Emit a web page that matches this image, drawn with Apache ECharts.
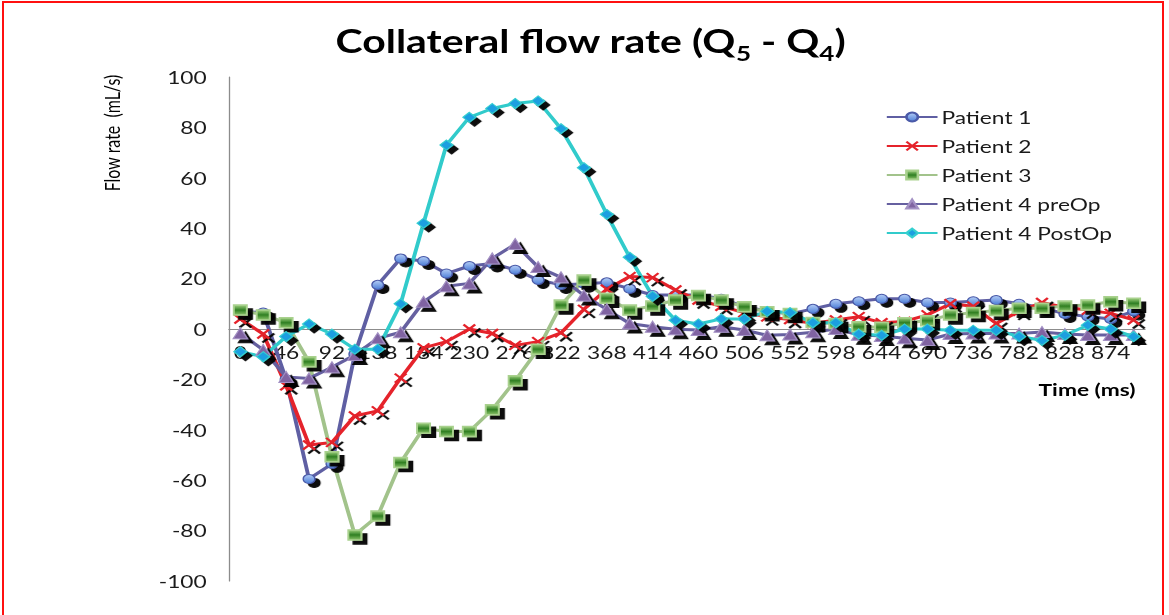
<!DOCTYPE html>
<html><head><meta charset="utf-8">
<script src="https://cdn.jsdelivr.net/npm/echarts@6/dist/echarts.min.js"></script>
<style>
html,body{margin:0;padding:0;background:#fff;overflow:hidden;width:1169px;height:615px;}
#chart{position:absolute;left:0;top:0;width:899px;height:615px;transform:scaleX(1.3003);transform-origin:0 0;}
#frame{position:absolute;left:2px;top:1px;width:1162px;height:700px;border:2px solid #ff1010;box-sizing:border-box;pointer-events:none;}
</style></head>
<body><div id="chart"></div><div id="frame"></div>
<script>
const categories = ['0','23','46','69','92','115','138','161','184','207','230','253','276','299','322','345','368','391','414','437','460','483','506','529','552','575','598','621','644','667','690','713','736','759','782','805','828','851','874','897'];
const yTicks = { min: -100, max: 100, step: 20 };

const patient1 = [7, 6.5, -20, -59.5, -53.5, -10, 17.5, 28, 27, 22, 25, 26, 23.5, 19.5, 17.5, 18, 18.5, 16, 13.5, 13.5, 13.5, 12, 9, 7, 6, 8, 10, 11, 12, 12, 10.5, 10.5, 11, 11.5, 10, 8.5, 6, 5, 4, 7];
const patient2 = [4, -2, -22.5, -46, -45, -34.5, -32.5, -19.5, -7.5, -5, 0, -1.8, -6.5, -5, -1.5, 7.8, 15.8, 20.8, 20.4, 15.5, 11.5, 9, 6.5, 4.8, 3.8, 2.2, 3.6, 4.9, 2.5, 3, 5.6, 10, 9, 2.2, 7, 10.5, 8.6, 7.5, 6.2, 3.6];
const patient3 = [7.5, 5.6, 2.5, -13, -50.7, -81.7, -74.2, -53, -39.4, -40.7, -40.7, -32, -20.5, -8, 9.5, 19.4, 12.2, 7.5, 9.1, 11.5, 13.3, 11.5, 8.8, 6.8, 6.2, 2.6, 2.2, 0.9, 0.7, 2.5, 3.3, 5.6, 6.5, 7.3, 8.2, 8.2, 9.1, 9.5, 10.8, 10.2];
const patient4Pre = [-1.7, -8.3, -19, -19.6, -15.2, -10.3, -3.7, -1.3, 10.8, 17, 18.1, 28, 33.7, 24.6, 20.5, 13.3, 7.8, 2.2, 0.9, -0.1, -0.4, 0.9, -0.4, -2.5, -2.2, -1.3, 0, -2.3, -2.8, -3.7, -4.4, -2, -1.8, -1.8, -1.8, -1.2, -2, -2.4, -2.4, -2.4];
const patient4Post = [-9, -11, -3, 2, -2, -8, -8, 10, 42, 73, 84, 87.5, 89.5, 90.5, 79.5, 64, 45.5, 28.5, 13, 3.5, 2, 4, 4, 7, 6.5, 2.5, 2.5, -2, -2.5, 0, 0, -0.5, -0.5, -0.5, -3, -4.5, -2.5, 1.5, 0, -3];
const seriesNames = ['Patient 1', 'Patient 2', 'Patient 3', 'Patient 4 preOp', 'Patient 4 PostOp'];

const FONT = 'Lato, "Open Sans", sans-serif';
const shadow = { shadowColor: 'rgba(0,0,0,0.95)', shadowBlur: 1, shadowOffsetX: 4, shadowOffsetY: 4 };
function grad(a, b, c) {
  return { type: 'linear', x: 0, y: 0, x2: 0, y2: 1, colorStops: c ? [{offset:0,color:a},{offset:0.5,color:b},{offset:1,color:c}] : [{offset:0,color:a},{offset:1,color:b}] };
}
function mk(name, data, symbol, size, lineColor, item) {
  return {
    name, type: 'line', data, symbol, symbolSize: size, showAllSymbol: true,
    lineStyle: { color: lineColor, width: 3 },
    itemStyle: Object.assign({}, item, shadow),
    emphasis: { disabled: true },
    z: 2
  };
}

const chart = echarts.init(document.getElementById('chart'), null, { renderer: 'svg' });
chart.setOption({
  animation: false,
  backgroundColor: '#ffffff',
  title: {
    text: '{a|Collateral flow rate (Q}{s|5}{a| - Q}{s|4}{a|)}',
    left: 449, top: 14, textAlign: 'center',
    textStyle: {
      rich: {
        a: { fontFamily: FONT, fontWeight: 'bold', fontSize: 31.5, lineHeight: 44, color: '#000' },
        s: { fontFamily: FONT, fontWeight: 'bold', fontSize: 20, lineHeight: 20, verticalAlign: 'bottom', color: '#000' }
      }
    }
  },
  legend: {
    orient: 'vertical', left: 676, top: 103,
    itemWidth: 39, itemHeight: 11, itemGap: 11,
    data: seriesNames,
    textStyle: { fontFamily: FONT, fontSize: 17.5, color: '#1a1a1a', lineHeight: 18, padding: [0,0,0,-2] },
    itemStyle: { shadowColor: 'rgba(0,0,0,0)', shadowBlur: 0, shadowOffsetX: 0, shadowOffsetY: 0 }
  },
  grid: { left: 176, top: 77, width: 704.6, height: 504, containLabel: false },
  xAxis: {
    type: 'category', data: categories, boundaryGap: true,
    position: 'bottom', offset: -252,
    axisLine: { onZero: false, lineStyle: { color: '#8c8c8c', width: 1 } },
    axisTick: { show: false },
    axisLabel: { interval: 1, margin: 14, fontFamily: FONT, fontSize: 17.5, color: '#1a1a1a' },
    splitLine: { show: false }
  },
  yAxis: {
    type: 'value', min: yTicks.min, max: yTicks.max, interval: yTicks.step,
    axisLine: { show: true, lineStyle: { color: '#8c8c8c', width: 1 } },
    axisTick: { show: false },
    axisLabel: { margin: 17, fontFamily: FONT, fontSize: 17.5, color: '#1a1a1a' },
    splitLine: { show: false }
  },
  graphic: [
    { type: 'text', x: 86, y: 133, rotation: Math.PI / 2,
      style: { text: 'Flow rate  (mL/s)', fontFamily: FONT, fontSize: 16, fill: '#000', textAlign: 'center', textVerticalAlign: 'middle' } },
    { type: 'text', x: 836, y: 389,
      style: { text: 'Time (ms)', fontFamily: FONT, fontWeight: 'bold', fontSize: 17.5, fill: '#000', textAlign: 'center', textVerticalAlign: 'middle' } }
  ],
  series: [
    mk(seriesNames[0], patient1, 'circle', 9, '#5f5fa3', { color: grad('#b4cdf6', '#4d7fd8'), borderColor: '#4a5aa8', borderWidth: 1 }),
    mk(seriesNames[1], patient2, 'path://M0,0L10,10M10,0L0,10', 9, '#e5232b', { color: 'rgba(0,0,0,0)', borderColor: '#e5232b', borderWidth: 2 }),
    mk(seriesNames[2], patient3, 'rect', 10, '#a2c38b', { color: grad('#9fd07f', '#2f7f22', '#8cc36a'), borderColor: '#a9d18e', borderWidth: 1.5 }),
    mk(seriesNames[3], patient4Pre, 'triangle', 11, '#6660a0', { color: '#8064a2', borderColor: '#a391c4', borderWidth: 1 }),
    mk(seriesNames[4], patient4Post, 'diamond', 10, '#31cbcb', { color: '#1d9fe0', borderColor: '#35d0d0', borderWidth: 1 })
  ]
});
</script>
</body></html>
